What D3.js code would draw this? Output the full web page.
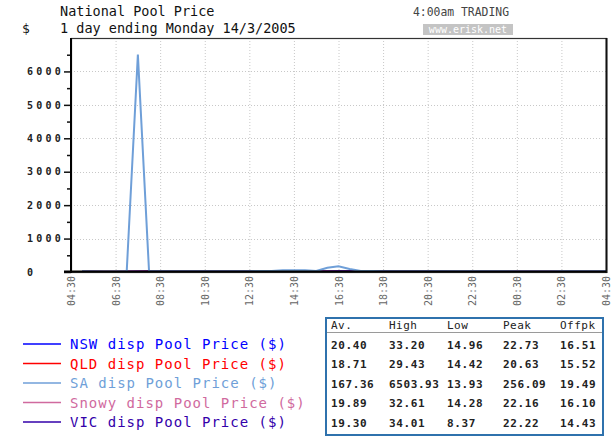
<!DOCTYPE html>
<html>
<head>
<meta charset="utf-8">
<script src="https://cdn.jsdelivr.net/npm/d3@7"></script>
<style>
  body { margin: 0; background: #fff; }
  svg { display: block; }
  .mono { font-family: "DejaVu Sans Mono", "Liberation Mono", monospace; }
</style>
</head>
<body>
<div id="app"></div>
<script>
// half-hour trading intervals, 05:00 .. 04:30 next day
const periods = [
  '05:00', '05:30', '06:00', '06:30', '07:00', '07:30', '08:00', '08:30', '09:00', '09:30',
  '10:00', '10:30', '11:00', '11:30', '12:00', '12:30', '13:00', '13:30', '14:00', '14:30',
  '15:00', '15:30', '16:00', '16:30', '17:00', '17:30', '18:00', '18:30', '19:00', '19:30',
  '20:00', '20:30', '21:00', '21:30', '22:00', '22:30', '23:00', '23:30', '00:00', '00:30',
  '01:00', '01:30', '02:00', '02:30', '03:00', '03:30', '04:00', '04:30'
];

const xTickLabels = ['04:30', '06:30', '08:30', '10:30', '12:30', '14:30', '16:30',
  '18:30', '20:30', '22:30', '00:30', '02:30', '04:30'];

const yMajorTicks = [0, 1000, 2000, 3000, 4000, 5000, 6000];
const yMinorTicks = [500, 1500, 2500, 3500, 4500, 5500, 6500];

const regions = ['NSW', 'QLD', 'SA', 'Snowy', 'VIC'];
const regionColors = ['#0000ff', '#ff0000', '#6f9fd8', '#d06a9e', '#3300aa'];

const nswPrice = [17.2, 16.1, 15.4, 14.96, 15.8, 18.9, 21.5, 22.8, 23.4, 22.9,
  22.1, 21.6, 21.0, 20.4, 20.1, 19.8, 20.2, 20.9, 21.8, 22.6,
  23.1, 23.9, 25.2, 27.8, 30.4, 33.2, 31.6, 27.4, 24.8, 22.9,
  21.7, 20.8, 19.9, 19.2, 18.6, 18.5, 17.9, 17.0, 16.4, 16.0,
  15.6, 15.2, 15.3, 15.5, 16.0, 16.8, 17.5, 18.3];
const qldPrice = [16.0, 15.2, 14.6, 14.42, 15.1, 17.4, 19.6, 20.8, 21.2, 20.9,
  20.3, 19.8, 19.2, 18.8, 18.5, 18.2, 18.6, 19.3, 20.1, 20.8,
  21.3, 22.0, 23.1, 25.4, 27.6, 29.43, 28.1, 24.7, 22.3, 20.8,
  19.9, 19.0, 18.3, 17.7, 17.2, 17.0, 16.4, 15.8, 15.3, 15.0,
  14.8, 14.6, 14.7, 14.9, 15.3, 15.9, 16.5, 17.1];
const saPrice = [19.5, 18.1, 16.4, 13.93, 25.0, 6503.93, 30.2, 24.6, 23.1, 22.5,
  22.0, 21.4, 21.0, 22.5, 24.0, 26.0, 28.0, 32.0, 52.0, 55.0,
  52.0, 30.0, 128.0, 172.0, 92.0, 28.0, 26.5, 24.0, 22.8, 21.9,
  21.0, 20.4, 19.8, 19.3, 18.9, 20.1, 19.6, 19.1, 18.8, 18.4,
  18.2, 18.0, 18.3, 18.9, 19.6, 20.4, 21.1, 21.9];
const snowyPrice = [16.6, 15.7, 15.0, 14.28, 15.4, 18.3, 21.0, 22.2, 22.8, 22.4,
  21.7, 21.1, 20.6, 20.1, 19.7, 19.4, 19.9, 20.5, 21.3, 22.0,
  22.6, 23.4, 24.7, 27.2, 29.9, 32.61, 31.0, 26.9, 24.2, 22.4,
  21.2, 20.3, 19.5, 18.8, 18.2, 18.1, 17.4, 16.6, 16.0, 15.6,
  15.2, 14.9, 15.0, 15.2, 15.7, 16.4, 17.1, 17.8];
const vicPrice = [15.4, 12.6, 10.1, 8.37, 14.2, 18.7, 21.3, 22.6, 23.0, 22.5,
  21.8, 21.2, 20.6, 20.1, 19.6, 19.3, 19.8, 20.4, 21.2, 22.0,
  22.5, 23.3, 24.8, 27.6, 30.9, 34.01, 31.8, 26.8, 24.0, 22.1,
  20.9, 20.0, 19.2, 18.5, 17.9, 17.8, 16.9, 15.9, 15.1, 14.6,
  14.2, 13.8, 13.9, 14.3, 14.9, 15.6, 16.4, 17.2];
const series = [nswPrice, qldPrice, saPrice, snowyPrice, vicPrice];

const statHeaders = ['Av.', 'High', 'Low', 'Peak', 'Offpk'];
const statRows = [
  ['20.40', '33.20', '14.96', '22.73', '16.51'],
  ['18.71', '29.43', '14.42', '20.63', '15.52'],
  ['167.36', '6503.93', '13.93', '256.09', '19.49'],
  ['19.89', '32.61', '14.28', '22.16', '16.10'],
  ['19.30', '34.01', '8.37', '22.22', '14.43']
];

const w = 613;
const h = 438;
const plotLeft = 71, plotRight = 606, plotTop = 38, plotBottom = 272;

const svg = d3.select('#app')
  .append('svg')
  .attr('width', w)
  .attr('height', h);

const xScale = d3.scaleLinear()
  .domain([0, periods.length])
  .range([plotLeft, plotRight]);

const yScale = d3.scaleLinear()
  .domain([0, 7000])
  .range([plotBottom, plotTop]);

/////////HEADER//////////
svg.append('text')
  .attr('class', 'mono')
  .attr('x', 60).attr('y', 16)
  .style('font-size', '13.5px')
  .attr('fill', '#111')
  .text('National Pool Price');

svg.append('text')
  .attr('class', 'mono')
  .attr('x', 60).attr('y', 33)
  .style('font-size', '13.5px')
  .attr('fill', '#111')
  .text('1 day ending Monday 14/3/2005');

svg.append('text')
  .attr('class', 'mono')
  .attr('x', 22).attr('y', 33)
  .style('font-size', '13px')
  .attr('fill', '#111')
  .text('$');

svg.append('text')
  .attr('class', 'mono')
  .attr('x', 413).attr('y', 16)
  .style('font-size', '11.4px')
  .attr('fill', '#444')
  .text('4:00am TRADING');

svg.append('rect')
  .attr('x', 423).attr('y', 24)
  .attr('width', 90).attr('height', 11)
  .attr('fill', '#c4c4c4');

svg.append('text')
  .attr('class', 'mono')
  .attr('x', 468).attr('y', 32.5)
  .attr('text-anchor', 'middle')
  .style('font-size', '10px')
  .attr('fill', '#fff')
  .text('www.erisk.net');

/////////GRID//////////
const xTickValues = d3.range(0, periods.length + 1, 4);

svg.append('g')
  .selectAll('line')
  .data(xTickValues.slice(1, -1))
  .enter()
  .append('line')
  .attr('x1', (d) => xScale(d) + 0.5)
  .attr('x2', (d) => xScale(d) + 0.5)
  .attr('y1', plotTop)
  .attr('y2', plotBottom)
  .attr('stroke', '#c8c8c8')
  .attr('stroke-dasharray', '1,2');

svg.append('g')
  .selectAll('line')
  .data(yMajorTicks.slice(1))
  .enter()
  .append('line')
  .attr('x1', plotLeft)
  .attr('x2', plotRight)
  .attr('y1', (d) => Math.round(yScale(d)) + 0.5)
  .attr('y2', (d) => Math.round(yScale(d)) + 0.5)
  .attr('stroke', '#c8c8c8')
  .attr('stroke-dasharray', '1,2');

/////////LINES//////////
const line = d3.line()
  .x((d, i) => xScale(i + 1))
  .y((d) => yScale(d));

// SA last so it sits over the others
[0, 1, 3, 4, 2].forEach((k) => {
  svg.append('path')
    .datum(series[k])
    .attr('fill', 'none')
    .attr('stroke', regionColors[k])
    .attr('stroke-width', k === 2 ? 2 : 1.5)
    .attr('d', line);
});

/////////FRAME & AXES//////////
svg.append('rect')
  .attr('x', plotLeft + 0.5).attr('y', plotTop + 0.5)
  .attr('width', plotRight - plotLeft).attr('height', plotBottom - plotTop)
  .attr('fill', 'none')
  .attr('stroke', '#333')
  .attr('stroke-width', 1.2);

svg.append('line')
  .attr('x1', plotRight + 0.5).attr('x2', plotRight + 0.5)
  .attr('y1', plotTop).attr('y2', plotBottom + 1)
  .attr('stroke', '#111').attr('stroke-width', 2);

const yAxis = d3.axisLeft(yScale)
  .tickValues(yMajorTicks)
  .tickSize(7)
  .tickFormat(d3.format('d'));

const yMinorAxis = d3.axisLeft(yScale)
  .tickValues(yMinorTicks)
  .tickSize(4)
  .tickFormat('');

svg.append('g')
  .attr('transform', 'translate(' + plotLeft + ',0)')
  .call(yMinorAxis)
  .call((g) => g.select('.domain').remove())
  .selectAll('line').attr('stroke', '#111').attr('stroke-width', 1.5);

const yG = svg.append('g')
  .attr('id', 'y-axis')
  .attr('transform', 'translate(' + plotLeft + ',0)')
  .call(yAxis);

yG.select('.domain').remove();
yG.selectAll('line').attr('stroke', '#111').attr('stroke-width', 1.5);
yG.selectAll('text')
  .attr('class', 'mono')
  .attr('x', 27 - plotLeft)
  .attr('text-anchor', 'start')
  .style('font-size', '10px')
  .style('font-weight', 'bold')
  .style('letter-spacing', '3.2px')
  .attr('fill', '#222');

svg.append('line')
  .attr('x1', plotLeft).attr('x2', plotLeft)
  .attr('y1', plotTop).attr('y2', plotBottom + 1)
  .attr('stroke', '#000').attr('stroke-width', 2);

svg.append('line')
  .attr('x1', plotLeft - 7).attr('x2', plotRight)
  .attr('y1', plotBottom - 0.5).attr('y2', plotBottom - 0.5)
  .attr('stroke', '#000').attr('stroke-width', 2.2);

const xAxis = d3.axisBottom(xScale)
  .tickValues(xTickValues)
  .tickSize(0)
  .tickFormat((d, i) => xTickLabels[i]);

const xG = svg.append('g')
  .attr('id', 'x-axis')
  .attr('transform', 'translate(0,' + plotBottom + ')')
  .call(xAxis);

xG.select('.domain').remove();
xG.selectAll('text')
  .attr('class', 'mono')
  .attr('transform', 'rotate(-90)')
  .attr('x', -4)
  .attr('y', 0)
  .attr('dy', '0.35em')
  .attr('text-anchor', 'end')
  .style('font-size', '10px')
  .attr('fill', '#666');

//////////LEGEND//////////
const legend = svg.append('g')
  .selectAll('g')
  .data(regions)
  .enter()
  .append('g')
  .attr('transform', (d, i) => 'translate(0,' + (344 + i * 19.5) + ')');

legend.append('line')
  .attr('x1', 23).attr('x2', 61)
  .attr('y1', 0).attr('y2', 0)
  .attr('stroke', (d, i) => regionColors[i])
  .attr('stroke-width', 1.5);

legend.append('text')
  .attr('class', 'mono')
  .attr('x', 70).attr('y', 5)
  .style('font-size', '14px')
  .style('letter-spacing', '1px')
  .attr('fill', (d, i) => regionColors[i])
  .text((d) => d + ' disp Pool Price ($)');

//////////TABLE//////////
const colX = [331, 389, 447, 503, 560];

svg.append('rect')
  .attr('x', 326).attr('y', 318)
  .attr('width', 277).attr('height', 117)
  .attr('fill', '#fff')
  .attr('stroke', '#2f72ad')
  .attr('stroke-width', 2);

svg.append('line')
  .attr('x1', 327).attr('x2', 602)
  .attr('y1', 332.5).attr('y2', 332.5)
  .attr('stroke', '#9a9a9a');

svg.append('g')
  .selectAll('text')
  .data(statHeaders)
  .enter()
  .append('text')
  .attr('class', 'mono')
  .attr('x', (d, i) => colX[i])
  .attr('y', 329)
  .style('font-size', '11px')
  .style('letter-spacing', '0.5px')
  .attr('fill', '#222')
  .text((d) => d);

const rowG = svg.append('g')
  .selectAll('g')
  .data(statRows)
  .enter()
  .append('g')
  .attr('transform', (d, i) => 'translate(0,' + (348.5 + i * 19.5) + ')');

rowG.selectAll('text')
  .data((d) => d)
  .enter()
  .append('text')
  .attr('class', 'mono')
  .attr('x', (d, i) => colX[i])
  .attr('y', 0)
  .style('font-size', '11px')
  .style('font-weight', 'bold')
  .style('letter-spacing', '0.6px')
  .attr('fill', '#222')
  .text((d) => d);
</script>
</body>
</html>
